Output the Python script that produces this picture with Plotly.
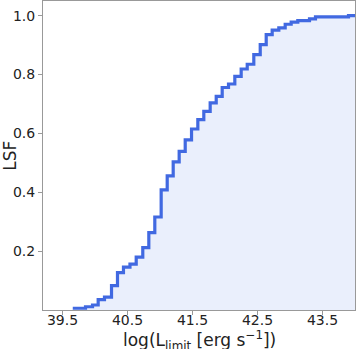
import plotly.graph_objects as go

# bin left edges of the cumulative step curve (log L_limit)
bin_edges = [39.658, 39.854, 39.962, 40.049, 40.146, 40.254, 40.346, 40.438,
             40.538, 40.634, 40.735, 40.828, 40.920, 41.018, 41.111, 41.203,
             41.295, 41.388, 41.485, 41.582, 41.674, 41.772, 41.865, 41.957,
             42.054, 42.151, 42.249, 42.342, 42.443, 42.542, 42.634, 42.726,
             42.828, 42.926, 43.018, 43.120, 43.300, 43.392, 43.900]
x_end = 44.0

# cumulative fraction in each bin
lsf = [0.006, 0.011, 0.017, 0.035, 0.044, 0.083, 0.127, 0.146,
       0.156, 0.180, 0.212, 0.263, 0.316, 0.408, 0.456, 0.503,
       0.539, 0.578, 0.615, 0.647, 0.675, 0.704, 0.726, 0.756,
       0.768, 0.794, 0.819, 0.835, 0.868, 0.902, 0.936, 0.951,
       0.959, 0.971, 0.978, 0.983, 0.989, 0.996, 1.0]

x_ticks = [39.5, 40.5, 41.5, 42.5, 43.5]
y_ticks = [0.2, 0.4, 0.6, 0.8, 1.0]

x = bin_edges + [x_end]
y = lsf + [lsf[-1]]

fig = go.Figure()
fig.add_trace(go.Scatter(
    x=x, y=y, mode='lines', line_shape='hv',
    line=dict(color='#4169E1', width=3.2),
    fill='tozeroy', fillcolor='rgba(65,105,225,0.11)',
    showlegend=False, hoverinfo='skip'))

axis_style = dict(showline=True, linecolor='#999999', linewidth=1, mirror=True,
                  showgrid=False, zeroline=False, ticks='outside', ticklen=4,
                  tickcolor='#999999', automargin=False,
                  tickfont=dict(size=14, color='#222222'))

fig.update_layout(
    width=357, height=349,
    margin=dict(l=43, r=2, t=1, b=39),
    plot_bgcolor='white', paper_bgcolor='white',
    font=dict(family='DejaVu Sans', color='#222222'),
    xaxis=dict(range=[39.2, 44.0], tickvals=x_ticks,
               ticktext=[f'{v:.1f}' for v in x_ticks],
               ticklabelstandoff=-7, **axis_style),
    yaxis=dict(range=[0, 1.05], tickvals=y_ticks,
               ticktext=[f'{v:.1f}' for v in y_ticks], **axis_style),
    annotations=[
        dict(text='log(L<sub>limit</sub> [erg s<sup>−1</sup>])',
             xref='paper', yref='paper', x=0.5, y=0, xanchor='center',
             yanchor='bottom', yshift=-45, showarrow=False,
             font=dict(size=17, color='#222222')),
        dict(text='LSF', xref='paper', yref='paper', x=-0.108, y=0.5,
             xanchor='center', yanchor='middle', textangle=-90,
             showarrow=False, font=dict(size=17, color='#222222')),
    ],
)

fig.write_html("out.html", config={'displayModeBar': False},
               post_script="document.body.style.margin='0';")
